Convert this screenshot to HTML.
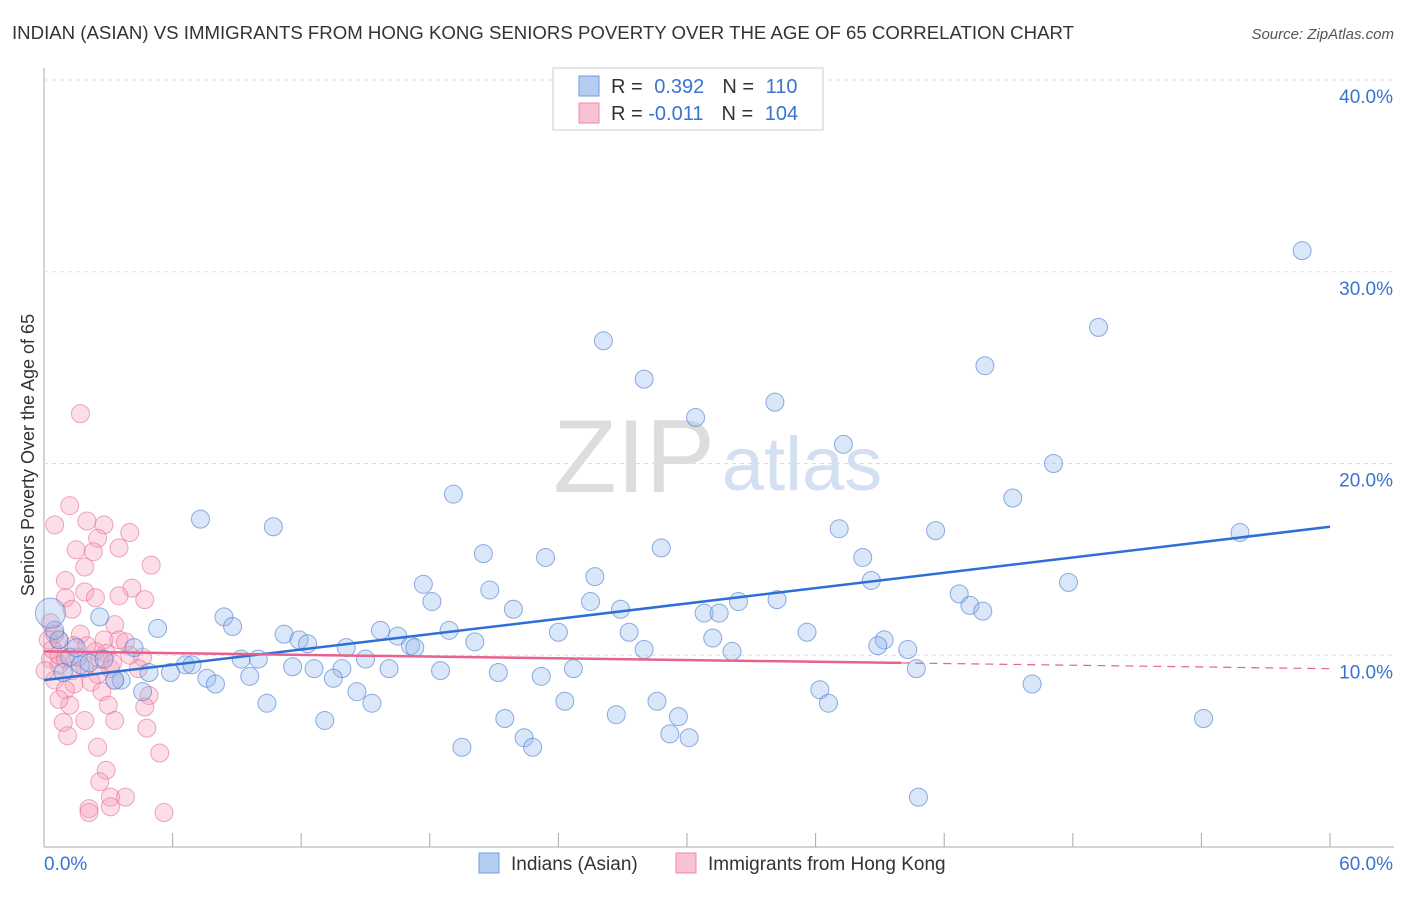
<!DOCTYPE html>
<html><head><meta charset="utf-8"><style>
body{margin:0;background:#fff;font-family:"Liberation Sans",sans-serif;}
svg text{font-family:"Liberation Sans",sans-serif;}
</style></head><body>
<svg id="chart" width="1406" height="892">
<text x="12" y="39" font-size="18" fill="#333" textLength="1062" lengthAdjust="spacingAndGlyphs">INDIAN (ASIAN) VS IMMIGRANTS FROM HONG KONG SENIORS POVERTY OVER THE AGE OF 65 CORRELATION CHART</text>
<text x="1394" y="39" font-size="15" fill="#555" text-anchor="end" font-style="italic">Source: ZipAtlas.com</text>
<g id="grid"></g>
<text x="634" y="492" font-size="104" fill="#ddd" font-family="Liberation Serif" text-anchor="middle">ZIP</text>
<text x="802" y="490" font-size="76" fill="#d2e0f2" text-anchor="middle">atlas</text>
<g id="marks"></g>
<text transform="translate(34,455) rotate(-90)" font-size="18" fill="#333" text-anchor="middle">Seniors Poverty Over the Age of 65</text>
<g>
<rect x="553" y="68" width="270" height="62" fill="#fff" stroke="#ccc"/>
<rect x="579" y="76" width="20" height="20" fill="#b3cdf3" stroke="#6f9be0"/>
<rect x="579" y="103" width="20" height="20" fill="#f9c2d2" stroke="#ec8aa8"/>
<text x="611" y="93" font-size="20" fill="#333">R = <tspan fill="#3a73d1" dx="6">0.392</tspan><tspan dx="18" fill="#333">N = </tspan><tspan dx="6" fill="#3a73d1">110</tspan></text>
<text x="611" y="120" font-size="20" fill="#333">R = <tspan fill="#3a73d1">-0.011</tspan><tspan dx="18" fill="#333">N = </tspan><tspan dx="6" fill="#3a73d1">104</tspan></text>
</g>
<g>
<rect x="479" y="853" width="20" height="20" fill="#b3cdf3" stroke="#6f9be0"/>
<text x="511" y="870" font-size="19" fill="#333">Indians (Asian)</text>
<rect x="676" y="853" width="20" height="20" fill="#f9c2d2" stroke="#ec8aa8"/>
<text x="708" y="870" font-size="19" fill="#333">Immigrants from Hong Kong</text>
</g>
</svg>
<script>
const xTicks=[0,6,12,18,24,30,36,42,48,54,60];
const yTicks=[10,20,30,40];
const blueX=[58.7,49.2,26.1,43.9,28.0,34.1,30.4,37.3,47.1,19.1,45.2,7.3,10.7,37.1,41.6,55.8,28.8,20.5,23.4,38.2,25.7,17.7,38.6,47.8,20.8,42.7,25.5,18.1,32.4,34.2,43.2,43.8,21.9,26.9,30.8,31.5,8.4,2.6,8.8,5.3,15.7,18.9,24.0,27.3,35.6,11.2,16.5,31.2,11.9,12.3,20.1,39.2,38.9,17.1,14.1,17.3,40.3,28.0,32.1,4.2,9.2,10.0,15.0,11.6,12.6,6.6,6.9,16.1,13.9,18.5,24.7,40.7,5.9,4.9,21.2,23.2,13.5,9.6,7.6,3.6,3.3,8.0,46.1,36.2,14.6,4.6,24.3,28.6,15.3,10.4,36.6,26.7,29.6,21.5,13.1,54.1,29.2,30.1,22.4,19.5,22.8,40.8,0.7,1.2,1.7,2.1,1.5,0.5,2.8,0.9];
const blueY=[31.1,27.1,26.4,25.1,24.4,23.2,22.4,21.0,20.0,18.4,18.2,17.1,16.7,16.6,16.5,16.4,15.6,15.3,15.1,15.1,14.1,13.7,13.9,13.8,13.4,13.2,12.8,12.8,12.8,12.9,12.6,12.3,12.4,12.4,12.2,12.2,12.0,12.0,11.5,11.4,11.3,11.3,11.2,11.2,11.2,11.1,11.0,10.9,10.8,10.6,10.7,10.8,10.5,10.5,10.4,10.4,10.3,10.3,10.2,10.4,9.8,9.8,9.8,9.4,9.3,9.5,9.5,9.3,9.3,9.2,9.3,9.3,9.1,9.1,9.1,8.9,8.8,8.9,8.8,8.7,8.7,8.5,8.5,8.2,8.1,8.1,7.6,7.6,7.5,7.5,7.5,6.9,6.8,6.7,6.6,6.7,5.9,5.7,5.7,5.2,5.2,2.6,10.8,9.9,9.5,9.6,10.4,11.3,9.8,9.1];
const pinkX=[1.7,1.2,0.5,2.0,2.8,4.0,2.5,1.5,2.3,3.5,1.9,5.0,1.0,4.1,3.5,4.7,1.9,1.0,1.3,2.4,3.3,0.3,0.7,1.7,2.8,3.5,1.4,2.4,2.9,4.0,4.6,0.3,0.7,1.9,2.5,3.1,4.4,0.5,1.4,2.2,3.3,4.9,2.7,1.0,1.2,3.0,1.9,4.7,0.9,3.3,4.8,1.1,2.5,5.4,2.9,2.6,3.8,3.1,2.1,3.1,5.6,2.1,0.2,0.4,0.7,1.0,1.3,1.6,2.0,2.6,3.8,3.2,0.5,0.05,0.7];
const pinkY=[22.6,17.8,16.8,17.0,16.8,16.4,16.1,15.5,15.4,15.6,14.6,14.7,13.9,13.5,13.1,12.9,13.3,13.0,12.4,13.0,11.6,11.7,10.8,11.1,10.8,10.8,10.5,10.2,10.1,10.0,9.9,9.8,9.5,9.3,9.0,9.3,9.3,8.7,8.5,8.6,8.7,7.9,8.1,8.2,7.4,7.4,6.6,7.3,6.5,6.6,6.2,5.8,5.2,4.9,4.0,3.4,2.6,2.6,2.0,2.1,1.8,1.8,10.8,10.3,10.0,9.8,9.2,9.9,10.5,9.8,10.7,9.6,11.1,9.2,7.7];
const blueTrend=[[0,8.7],[60,16.7]];
const pinkTrend=[[0,10.2],[40,9.6],[60,9.3]];
const X=v=>44+v*(1286/60), Y=v=>847-v*(767/40);
const NS="http://www.w3.org/2000/svg";
const grid=document.getElementById('grid'), marks=document.getElementById('marks');
function mk(p,tag,a){const e=document.createElementNS(NS,tag);for(const k in a)e.setAttribute(k,a[k]);p.appendChild(e);return e;}
mk(grid,'line',{x1:44,y1:68,x2:44,y2:847,stroke:'#aaa'});
mk(grid,'line',{x1:44,y1:847,x2:1394,y2:847,stroke:'#aaa'});
yTicks.forEach(t=>{
 const l=mk(grid,'line',{x1:44,x2:1394,y1:Y(t),y2:Y(t),stroke:'#ddd','stroke-dasharray':'4,4'});
 
 
 const tx=mk(grid,'text',{x:1393,y:Y(t)+23,'font-size':19,fill:'#3a73d1','text-anchor':'end'});
 tx.textContent=t.toFixed(1)+'%';
 
 
});
xTicks.forEach(t=>{ if(t>0) mk(grid,'line',{x1:X(t),x2:X(t),y1:833,y2:847,stroke:'#aaa'}); });
[[0,'0.0%','start',44],[60,'60.0%','end',1393]].forEach(d=>{
 const tx=mk(grid,'text',{x:d[3],y:870,'font-size':19,fill:'#3a73d1','text-anchor':d[2]});
 tx.textContent=d[1];
 
 
});
pinkX.forEach((x,i)=>{
 const c=mk(marks,'circle',{cx:X(x),cy:Y(pinkY[i]),r:9,fill:'rgba(245,160,185,0.35)',stroke:'rgba(230,110,150,0.6)','stroke-width':1});
 
 
});
blueX.forEach((x,i)=>{
 const c=mk(marks,'circle',{cx:X(x),cy:Y(blueY[i]),r:9,fill:'rgba(150,185,235,0.35)',stroke:'rgba(70,120,210,0.6)','stroke-width':1});
 
 
});
const big=mk(marks,'circle',{cx:X(0.3),cy:Y(12.2),r:15,fill:'rgba(150,185,235,0.35)',stroke:'rgba(70,120,210,0.6)'});


const bt=mk(marks,'line',{x1:X(blueTrend[0][0]),y1:Y(blueTrend[0][1]),x2:X(blueTrend[1][0]),y2:Y(blueTrend[1][1]),stroke:'#2d6fd6','stroke-width':2.5});


const pt=mk(marks,'line',{x1:X(pinkTrend[0][0]),y1:Y(pinkTrend[0][1]),x2:X(pinkTrend[1][0]),y2:Y(pinkTrend[1][1]),stroke:'#e8628f','stroke-width':2.5});


const pd=mk(marks,'line',{x1:X(pinkTrend[1][0]),y1:Y(pinkTrend[1][1]),x2:X(pinkTrend[2][0]),y2:Y(pinkTrend[2][1]),stroke:'#e8628f','stroke-width':1.2,'stroke-dasharray':'8,6'});


</script>
</body></html>
